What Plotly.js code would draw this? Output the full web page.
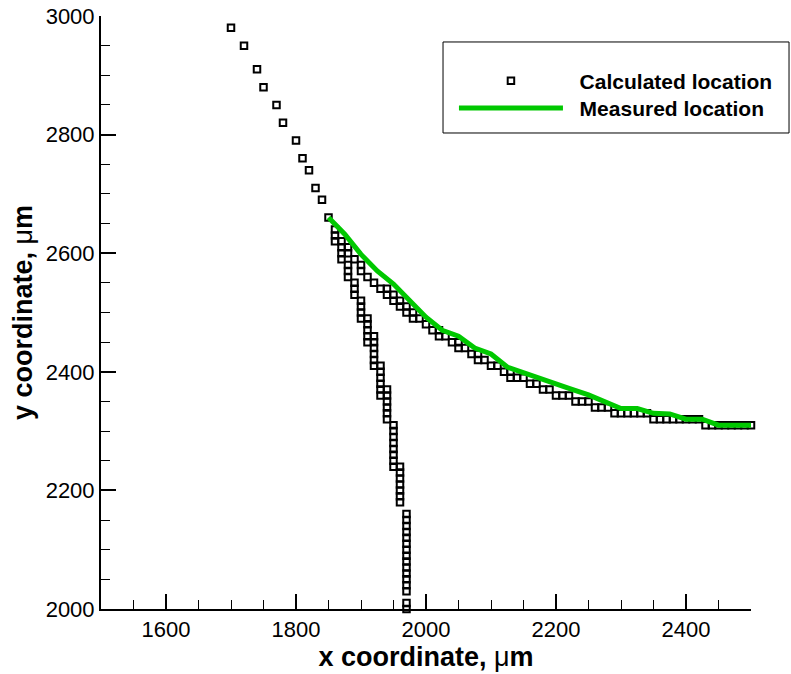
<!DOCTYPE html>
<html>
<head>
<meta charset="utf-8">
<script src="https://cdn.plot.ly/plotly-3.0.1.min.js"></script>
<style>html,body{margin:0;padding:0;background:#fff;}</style>
</head>
<body>
<div id="chart" style="width:791px;height:674px;"></div>
<script>
// Calculated location: upper single strand
var upperX = [1700,1720,1740,1750,1770,1780,1800,1810,1820,1830,1840,1850];
var upperY = [2980,2950,2910,2880,2850,2820,2790,2760,2740,2710,2690,2660];

// Calculated location: steep left branch
var leftX = [1860,1860,1860, 1870,1870,1870, 1880,1880,1880, 1890,1890,1890,
  1900,1900,1900,1900, 1910,1910,1910,1910,1910, 1920,1920,1920,1920,1920,1920,
  1930,1930,1930,1930,1930,1930, 1940,1940,1940,1940,1940,1940,
  1950,1950,1950,1950,1950,1950,1950,1950, 1960,1960,1960,1960,1960,1960,1960,
  1970,1970,1970,1970,1970,1970,1970,1970,1970,1970,1970,1970,1970,1970,1970,1970];
var leftY = [2640,2630,2620, 2610,2600,2590, 2580,2570,2560, 2550,2540,2530,
  2520,2510,2500,2490, 2490,2480,2470,2460,2450, 2460,2450,2440,2430,2420,2410,
  2410,2400,2390,2380,2370,2360, 2370,2360,2350,2340,2330,2320,
  2310,2300,2290,2280,2270,2260,2250,2240, 2240,2230,2220,2210,2200,2190,2180,
  2160,2150,2140,2130,2120,2110,2100,2090,2080,2070,2060,2050,2040,2030,2010,2000];

// Calculated location: right branch following the measured front
var rightX = [1870,1880,1880,1890,1900,1900,1910,1920,1930,1940,1940,1950,1950,
  1960,1960,1970,1970,1980,1980,1990,2000,2010,2020,2020,2030,2040,2050,2050,
  2060,2070,2080,2080,2090,2100,2110,2120,2130,2130,2140,2150,2160,2170,2180,
  2190,2200,2210,2220,2230,2240,2250,2260,2270,2280,2290,2300,2310,2320,2330,
  2340,2350,2360,2370,2380,2390,2400,2410,2420,2430,2440,2450,2460,2470,2480,
  2490,2500];
var rightY = [2620,2610,2600,2590,2580,2570,2560,2550,2540,2540,2530,2530,2520,
  2520,2510,2510,2500,2500,2490,2490,2480,2470,2470,2460,2460,2450,2450,2440,
  2440,2430,2430,2420,2420,2410,2410,2400,2400,2390,2390,2390,2380,2380,2370,
  2370,2360,2360,2360,2350,2350,2350,2340,2340,2340,2330,2330,2330,2330,2330,
  2330,2320,2320,2320,2320,2320,2320,2320,2320,2310,2310,2310,2310,2310,2310,
  2310,2310];

// Measured location
var measX = [1850,1875,1900,1925,1950,1975,2000,2025,2050,2075,2100,2125,2150,
  2190,2220,2250,2275,2300,2325,2350,2375,2400,2425,2450,2500];
var measY = [2660,2632,2598,2570,2548,2520,2492,2470,2460,2440,2430,2408,2398,
  2383,2372,2361,2350,2338,2338,2330,2329,2320,2320,2310,2310];

var nameCalc = 'Calculated location';
var nameMeas = 'Measured location';

var FONT = 'Liberation Sans, Arial, Helvetica, sans-serif';
var pad = '\u00a0\u00a0';

var calcX = upperX.concat(leftX, rightX);
var calcY = upperY.concat(leftY, rightY);

var traces = [
  {
    x: calcX, y: calcY, type: 'scatter', mode: 'markers', name: pad + nameCalc,
    marker: {symbol: 'square-open', size: 6.5, color: 'black', line: {width: 2, color: 'black'}},
    cliponaxis: false, legend: 'legend'
  },
  {
    x: measX, y: measY, type: 'scatter', mode: 'lines', name: pad + nameMeas,
    line: {color: '#00c800', width: 5}, legend: 'legend2'
  }
];

var axisCommon = {
  showline: true, linewidth: 2, linecolor: 'black', mirror: false,
  showgrid: false, zeroline: false,
  ticks: 'inside', ticklen: 15, tickwidth: 2, tickcolor: 'black',
  tickfont: {family: FONT, size: 22, color: 'black'},
  tickmode: 'linear', dtick: 200
};

var legendCommon = {
  xanchor: 'left', yanchor: 'top',
  bgcolor: 'rgba(0,0,0,0)', borderwidth: 0,
  itemwidth: 104, tracegroupgap: 0,
  font: {family: FONT, size: 21, weight: 'bold', color: 'black'}
};

var layout = {
  width: 791, height: 674,
  margin: {l: 101, r: 40, t: 16, b: 65, pad: 0},
  paper_bgcolor: 'white', plot_bgcolor: 'white',
  font: {family: FONT, color: 'black'},
  showlegend: true,
  xaxis: Object.assign({}, axisCommon, {
    range: [1500, 2500], tick0: 1600,
    minor: {dtick: 50, tick0: 1500, ticks: 'inside', ticklen: 9, tickwidth: 1, tickcolor: 'black'},
    title: {text: 'x coordinate, <span style="font-weight:normal">μ</span>m', font: {family: FONT, size: 27, weight: 'bold', color: 'black'}, standoff: 2}
  }),
  yaxis: Object.assign({}, axisCommon, {
    range: [2000, 3000], tick0: 2000,
    minor: {dtick: 50, tick0: 2000, ticks: 'inside', ticklen: 9, tickwidth: 1, tickcolor: 'black'},
    title: {text: 'y coordinate, <span style="font-weight:normal">μ</span>m', font: {family: FONT, size: 27, weight: 'bold', color: 'black'}, standoff: 5}
  }),
  legend: Object.assign({}, legendCommon, {x: 0.543, y: 0.925}),
  legend2: Object.assign({}, legendCommon, {x: 0.543, y: 0.879}),
  shapes: [
    {type: 'rect', xref: 'paper', yref: 'paper', x0: 0.5262, x1: 1.0585, y0: 0.8027, y1: 0.9562,
     line: {color: 'black', width: 1}, fillcolor: 'rgba(0,0,0,0)', layer: 'below'}
  ]
};

Plotly.newPlot('chart', traces, layout, {displayModeBar: false, staticPlot: true});
</script>
</body>
</html>
